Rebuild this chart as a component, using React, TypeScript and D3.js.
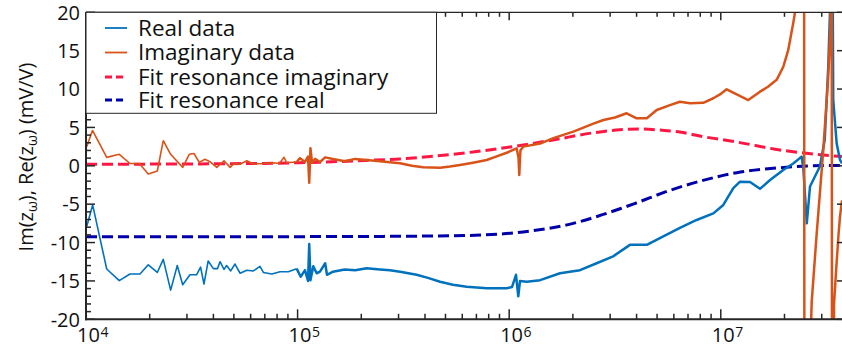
import React, { useEffect, useRef } from "react";
import * as d3 from "d3";

const W = 842;
const H = 354;

// Real data (blue)
const realFreq = [
  1.008e4, 1.075e4, 1.253e4, 1.436e4, 1.614e4, 1.8e4, 1.969e4, 2.173e4, 2.318e4, 2.512e4,
  2.7e4, 2.864e4, 3.1e4, 3.33e4, 3.48e4, 3.61e4, 3.78e4, 4.0e4, 4.18e4, 4.3e4,
  4.49e4, 4.62e4, 4.83e4, 5.06e4, 5.35e4, 5.75e4, 6.18e4, 6.64e4, 6.89e4, 7.55e4,
  8.26e4, 9.04e4, 9.9e4, 1.034e5, 1.084e5, 1.12e5, 1.135e5, 1.15e5, 1.186e5, 1.231e5,
  1.276e5, 1.35e5, 1.377e5, 1.47e5, 1.67e5, 1.87e5, 2.12e5, 2.45e5, 2.73e5, 3.05e5,
  3.65e5, 4.13e5, 4.71e5, 5.42e5, 6.3e5, 7.83e5, 9.73e5, 1.031e6, 1.077e6, 1.104e6,
  1.125e6, 1.21e6, 1.4e6, 1.738e6, 2.16e6, 2.59e6, 3.1e6, 3.72e6, 4.47e6, 5.35e6,
  6.41e6, 7.69e6, 9.22e6, 1.028e7, 1.146e7, 1.233e7, 1.374e7, 1.532e7, 1.709e7, 1.974e7,
  2.2e7, 2.41e7, 2.455e7, 2.55e7, 2.64e7, 2.94e7, 3.1e7, 3.22e7, 3.28e7, 3.31e7,
  3.37e7, 3.4e7, 3.53e7, 3.66e7, 3.74e7,
];
const realVals = [
  -7.9, -5.1, -13.45, -14.97, -14.1, -14.1, -12.9, -13.9, -12.2, -16.2,
  -13.0, -15.5, -14.2, -14.2, -13.2, -15.4, -12.4, -13.4, -13.4, -12.5,
  -13.5, -13.0, -13.7, -12.8, -14.0, -13.6, -13.7, -13.1, -13.9, -14.1,
  -13.8, -13.8, -13.4, -14.45, -13.6, -15.0, -10.2, -14.9, -13.1, -14.0,
  -13.8, -12.7, -14.2, -13.8, -13.5, -13.6, -13.36, -13.5, -13.6, -13.8,
  -14.2, -14.6, -15.1, -15.5, -15.75, -15.96, -15.96, -15.8, -14.2, -17.0,
  -15.0, -15.1, -14.9, -14.0, -13.6, -12.7, -11.8, -10.3, -10.3, -9.2,
  -8.1, -7.06, -6.2, -5.1, -2.9, -2.07, -2.1, -3.0, -1.85, -0.55,
  0.3, 1.2, -0.33, -7.5, -2.7, -0.1, 3.4, 12.9, 19.9, 30,
  30, 8.6, 2.9, 0.76, 0.3,
];

// Imaginary data (orange)
const imagFreq = [
  1.008e4, 1.073e4, 1.253e4, 1.436e4, 1.614e4, 1.786e4, 1.969e4, 2.173e4, 2.318e4, 2.512e4,
  2.864e4, 3.076e4, 3.238e4, 3.43e4, 3.65e4, 3.85e4, 4.15e4, 4.49e4, 4.8e4, 5.0e4,
  5.35e4, 5.75e4, 6.18e4, 6.89e4, 7.68e4, 8.2e4, 8.63e4, 8.88e4, 9.9e4, 1.026e5,
  1.084e5, 1.12e5, 1.135e5, 1.15e5, 1.17e5, 1.21e5, 1.276e5, 1.35e5, 1.47e5, 1.67e5,
  1.87e5, 2.12e5, 2.45e5, 2.73e5, 3.05e5, 3.47e5, 3.92e5, 4.71e5, 5.25e5, 5.85e5,
  6.74e5, 7.83e5, 8.66e5, 9.73e5, 1.085e6, 1.107e6, 1.116e6, 1.13e6, 1.166e6, 1.4e6,
  1.616e6, 2.01e6, 2.5e6, 2.79e6, 3.16e6, 3.59e6, 4.0e6, 4.47e6, 4.98e6, 5.75e6,
  6.41e6, 7.15e6, 8.26e6, 9.22e6, 9.91e6, 1.066e7, 1.189e7, 1.349e7, 1.532e7, 1.671e7,
  1.837e7, 1.974e7, 2.084e7, 2.2e7, 2.24e7, 2.37e7, 2.47e7, 2.49e7, 2.64e7, 2.69e7,
  2.84e7, 3.05e7, 3.22e7, 3.3e7, 3.34e7, 3.365e7, 3.43e7, 3.52e7, 3.6e7, 3.66e7,
  3.74e7,
];
const imagVals = [
  2.5, 4.6, 1.1, 1.5, 0.3, 0.3, -1.07, -0.68, 3.27, 1.5,
  -0.2, 1.5, 1.6, 0.45, 0.85, 0.53, -0.2, 0.66, -0.2, 0.3,
  0.2, 0.66, 0.23, 0.3, 0.4, 0.3, 1.1, 0.4, 0.5, 1.0,
  0.5, 1.2, -2.2, 2.3, 0.4, 0.9, 0.5, 1.1, 0.88, 0.6,
  0.9, 0.75, 0.6, 0.45, 0.32, 0.0, -0.2, -0.25, -0.1, 0.1,
  0.4, 0.75, 1.2, 1.7, 2.27, 1.0, -1.2, 2.0, 2.5, 2.9,
  3.6, 4.45, 5.5, 5.97, 6.3, 6.84, 6.19, 6.2, 7.27, 7.9,
  8.35, 8.14, 8.2, 8.8, 9.3, 9.97, 9.3, 8.57, 9.66, 10.3,
  11.2, 12.9, 15.1, 18.6, 19.9, 40, 80, -80, -25, -17.7,
  -8.8, 2.0, 11.6, 18.1, 40, -80, -18, -13, -9, -6.6,
  -4.5,
];

// Fit resonance imaginary (red dashed)
const fitImFreq = [1e4, 3.46e4, 1.026e5, 2.1e5, 3.05e5, 4.37e5, 6.74e5, 1.04e6, 1.61e6, 2.5e6, 3.34e6, 4.15e6, 5.16e6, 6.41e6, 8.24e6, 1.19e7, 1.905e7, 2.73e7, 3.74e7];
const fitImVals = [0.2, 0.25, 0.4, 0.7, 0.9, 1.25, 1.8, 2.5, 3.36, 4.3, 4.7, 4.8, 4.65, 4.4, 3.8, 3.1, 2.06, 1.54, 1.2];

// Fit resonance real (dark blue dashed)
const fitReFreq = [1e4, 1.026e5, 4.37e5, 9.06e5, 1.29e6, 1.876e6, 2.6e6, 3.34e6, 4.02e6, 5.75e6, 8.24e6, 1.19e7, 1.905e7, 2.73e7, 3.74e7];
const fitReVals = [-9.25, -9.23, -9.15, -8.9, -8.45, -7.7, -6.6, -5.6, -4.8, -3.2, -1.9, -0.9, -0.25, 0, 0.05];

const yTickVals = [-20, -15, -10, -5, 0, 5, 10, 15, 20];
const xDecades = [1e4, 1e5, 1e6, 1e7];
const xExponents = ["4", "5", "6", "7"];

const legendLabels = ["Real data", "Imaginary data", "Fit resonance imaginary", "Fit resonance real"];
const COLORS = {
  real: "#0072BD",
  imag: "#D95319",
  fitIm: "#FF1744",
  fitRe: "#0000AA",
  axis: "#262626",
};

export default function App() {
  const ref = useRef<SVGSVGElement>(null);

  useEffect(() => {
    document.body.style.margin = "0";
    const svg = d3.select(ref.current);
    svg.selectAll("*").remove();

    const left = 86, right = 842, top = 12.3, bottom = 319.3;
    const x = d3.scaleLog().domain([1e4, 3.74e7]).range([left, right]);
    const y = d3.scaleLinear().domain([-20, 20]).range([bottom, top]);
    const font = "'Open Sans', sans-serif";

    svg.append("defs").append("clipPath").attr("id", "plotclip")
      .append("rect").attr("x", left).attr("y", top).attr("width", right - left).attr("height", bottom - top);

    const g = svg.append("g").attr("clip-path", "url(#plotclip)");

    const mk = (fr: number[], vals: number[]) => fr.map((f, i) => [f, vals[i]] as [number, number]);
    const lineLin = d3.line<[number, number]>().x(d => x(d[0])).y(d => y(d[1]));
    const lineSmooth = d3.line<[number, number]>().x(d => x(d[0])).y(d => y(d[1])).curve(d3.curveMonotoneX);

    g.append("path").attr("d", lineSmooth(mk(fitImFreq, fitImVals))!)
      .attr("fill", "none").attr("stroke", COLORS.fitIm).attr("stroke-width", 3).attr("stroke-dasharray", "11,5");
    g.append("path").attr("d", lineSmooth(mk(fitReFreq, fitReVals))!)
      .attr("fill", "none").attr("stroke", COLORS.fitRe).attr("stroke-width", 3).attr("stroke-dasharray", "11,5");

    const drawData = (fr: number[], vals: number[], color: string) => {
      const pts = mk(fr, vals);
      const sparse = pts.filter(p => p[0] <= 1.0e5);
      const dense = pts.filter(p => p[0] >= 9.9e4);
      g.append("path").attr("d", lineLin(sparse)!)
        .attr("fill", "none").attr("stroke", color).attr("stroke-width", 1.6).attr("stroke-linejoin", "round");
      g.append("path").attr("d", lineLin(dense)!)
        .attr("fill", "none").attr("stroke", color).attr("stroke-width", 2.5).attr("stroke-linejoin", "round");
    };
    drawData(realFreq, realVals, COLORS.real);
    drawData(imagFreq, imagVals, COLORS.imag);

    const ax = svg.append("g").attr("stroke", COLORS.axis);

    // y ticks (left major/minor, right major)
    for (let v = -20; v <= 20; v++) {
      const major = v % 5 === 0;
      ax.append("line").attr("x1", left).attr("x2", left + (major ? 9 : 5))
        .attr("y1", y(v)).attr("y2", y(v)).attr("stroke-width", 1.5);
      if (major) {
        ax.append("line").attr("x1", right).attr("x2", right - 5)
          .attr("y1", y(v)).attr("y2", y(v)).attr("stroke-width", 1.5);
      }
    }
    // x ticks bottom and top
    const xMinor: number[] = [];
    xDecades.forEach(dec => { for (let k = 2; k <= 9; k++) { const f = dec * k; if (f <= 3.74e7) xMinor.push(f); } });
    xDecades.forEach(f => {
      ax.append("line").attr("x1", x(f)).attr("x2", x(f)).attr("y1", bottom).attr("y2", bottom - 10).attr("stroke-width", 1.5);
      ax.append("line").attr("x1", x(f)).attr("x2", x(f)).attr("y1", top).attr("y2", top + 8).attr("stroke-width", 1.5);
    });
    xMinor.forEach(f => {
      ax.append("line").attr("x1", x(f)).attr("x2", x(f)).attr("y1", bottom).attr("y2", bottom - 5.5).attr("stroke-width", 1.5);
      ax.append("line").attr("x1", x(f)).attr("x2", x(f)).attr("y1", top).attr("y2", top + 4.5).attr("stroke-width", 1.5);
    });
    // axis lines
    ax.append("line").attr("x1", left).attr("x2", left).attr("y1", top).attr("y2", bottom + 1).attr("stroke-width", 2);
    ax.append("line").attr("x1", left - 1).attr("x2", right).attr("y1", bottom).attr("y2", bottom).attr("stroke-width", 2);
    ax.append("line").attr("x1", left).attr("x2", right).attr("y1", top).attr("y2", top).attr("stroke-width", 1.2);

    // y tick labels
    yTickVals.forEach(v => {
      svg.append("text").attr("x", 80).attr("y", y(v)).attr("dy", "0.36em")
        .attr("text-anchor", "end").attr("font-family", font).attr("font-size", 20)
        .attr("fill", "#111").text(String(v));
    });
    // x tick labels
    xDecades.forEach((f, i) => {
      const t = svg.append("text").attr("x", x(f) - 9).attr("y", 341.7)
        .attr("font-family", font).attr("font-size", 20).attr("fill", "#111");
      t.append("tspan").text("10");
      t.append("tspan").attr("font-size", 14).attr("dy", -4.4).attr("dx", 0.5).text(xExponents[i]);
    });

    // y axis title
    const yt = svg.append("text")
      .attr("transform", `translate(33,157) rotate(-90)`)
      .attr("text-anchor", "middle").attr("font-family", font).attr("font-size", 20).attr("fill", "#111");
    yt.append("tspan").text("Im(z");
    yt.append("tspan").attr("font-size", 14).attr("dy", 4).text("ω");
    yt.append("tspan").attr("dy", -4).text("), Re(z");
    yt.append("tspan").attr("font-size", 14).attr("dy", 4).text("ω");
    yt.append("tspan").attr("dy", -4).text(") (mV/V)");

    // legend
    const lg = svg.append("g");
    lg.append("rect").attr("x", 86).attr("y", 12.3).attr("width", 350.5).attr("height", 101)
      .attr("fill", "#fff").attr("stroke", COLORS.axis).attr("stroke-width", 1);
    const rowsBase = [35.5, 60, 84.5, 107.5];
    const styles = [
      { c: COLORS.real, dash: null as string | null, w: 1.8 },
      { c: COLORS.imag, dash: null, w: 1.8 },
      { c: COLORS.fitIm, dash: "7,4", w: 3 },
      { c: COLORS.fitRe, dash: "7,4", w: 3 },
    ];
    legendLabels.forEach((lab, i) => {
      const yy = rowsBase[i] - 7.5;
      const ln = lg.append("line").attr("x1", 105).attr("x2", 127).attr("y1", yy).attr("y2", yy)
        .attr("stroke", styles[i].c).attr("stroke-width", styles[i].w);
      if (styles[i].dash) ln.attr("stroke-dasharray", styles[i].dash);
      lg.append("text").attr("x", 138).attr("y", rowsBase[i]).attr("font-family", font)
        .attr("font-size", 22.5).attr("fill", "#111").text(lab);
    });
  }, []);

  return <svg ref={ref} width={W} height={H} style={{ display: "block" }} />;
}
